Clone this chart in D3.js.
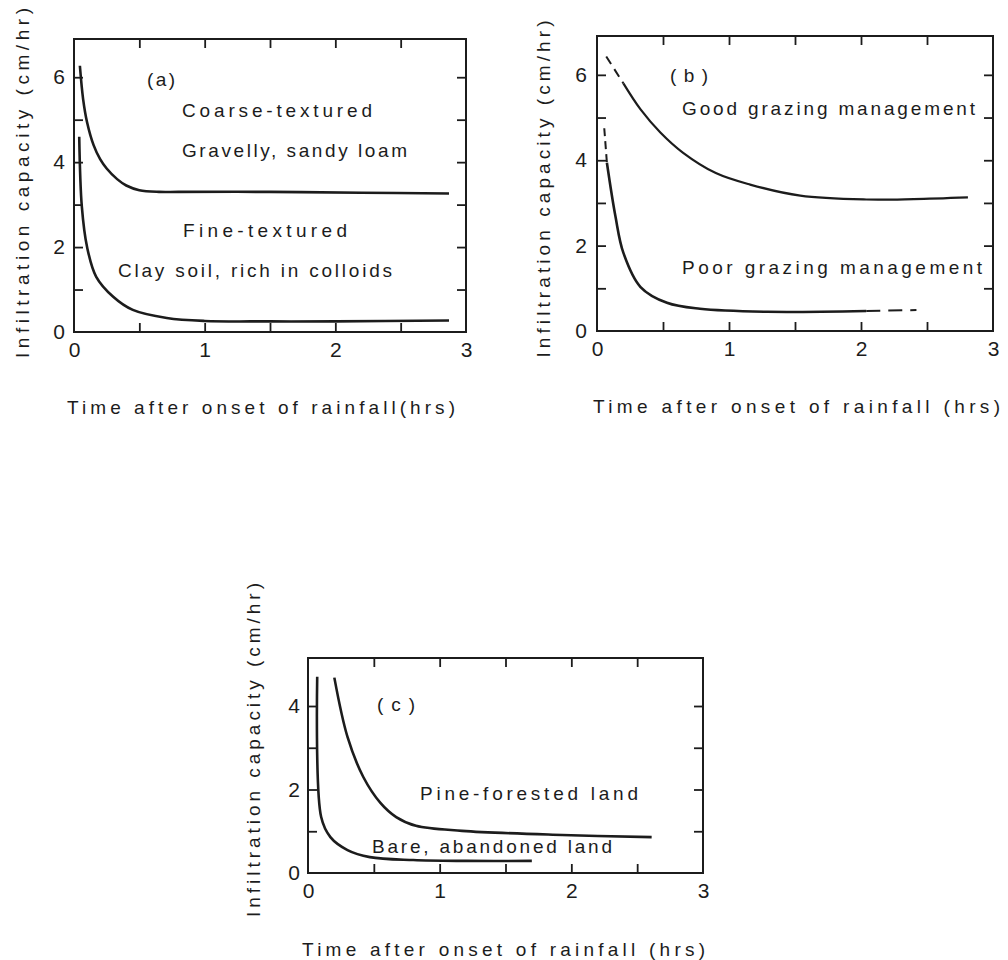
<!DOCTYPE html>
<html>
<head>
<meta charset="utf-8">
<script src="https://cdn.jsdelivr.net/npm/d3@7"></script>
<style>
  html, body { margin: 0; padding: 0; background: #fff; }
  svg { display: block; }
  text { font-family: "Liberation Sans", "DejaVu Sans", sans-serif; fill: #1c1c1c; }
</style>
</head>
<body>
<svg id="chart" width="1008" height="960"></svg>
<script>
// ---------------- DATA ----------------
const xTickMinor = [0.5, 1, 1.5, 2, 2.5];
const xTickLabels = [0, 1, 2, 3];

// Panel (a)
const aCoarseTime = [0.045, 0.07, 0.1, 0.15, 0.2, 0.25, 0.33, 0.4, 0.5, 0.65, 0.8, 1.5, 2.2, 2.87];
const aCoarseVal  = [6.27, 5.48, 4.94, 4.4, 4.07, 3.85, 3.6, 3.45, 3.34, 3.3, 3.3, 3.3, 3.28, 3.26];
const aFineTime   = [0.04, 0.06, 0.1, 0.17, 0.3, 0.45, 0.71, 1.0, 1.5, 2.0, 2.87];
const aFineVal    = [4.6, 2.95, 2.0, 1.3, 0.83, 0.52, 0.33, 0.26, 0.25, 0.25, 0.27];
const aYTicks = [1, 2, 3, 4, 5, 6];
const aYLabels = [0, 2, 4, 6];

// Panel (b)
const bGoodDashTime = [0.07, 0.2];
const bGoodDashVal  = [6.43, 5.8];
const bGoodTime = [0.2, 0.33, 0.48, 0.65, 0.9, 1.16, 1.54, 2.04, 2.4, 2.81];
const bGoodVal  = [5.8, 5.19, 4.65, 4.18, 3.7, 3.43, 3.17, 3.08, 3.09, 3.13];
const bPoorDashTime = [0.055, 0.075];
const bPoorDashVal  = [4.75, 3.94];
const bPoorTime = [0.075, 0.14, 0.2, 0.33, 0.53, 0.78, 1.29, 2.04];
const bPoorVal  = [3.94, 2.68, 1.83, 1.03, 0.66, 0.52, 0.45, 0.47];
const bPoorTailTime = [2.04, 2.42];
const bPoorTailVal  = [0.47, 0.49];
const bYTicks = [1, 2, 3, 4, 5, 6];
const bYLabels = [0, 2, 4, 6];

// Panel (c)
const cBareTime = [0.07, 0.1, 0.17, 0.3, 0.47, 0.8, 1.2, 1.7];
const cBareVal  = [4.7, 1.34, 0.86, 0.55, 0.38, 0.31, 0.29, 0.29];
const cPineTime = [0.2, 0.3, 0.42, 0.55, 0.67, 0.82, 1.17, 1.93, 2.61];
const cPineVal  = [4.68, 3.26, 2.3, 1.68, 1.34, 1.13, 1.01, 0.91, 0.86];
const cYTicks = [1, 2, 3, 4];
const cYLabels = [0, 2, 4];

const yTitle = "Infiltration capacity (cm/hr)";
const xTitleA = "Time after onset of rainfall(hrs)";
const xTitleB = "Time after onset of rainfall (hrs)";

// ---------------- DRAW ----------------
const svg = d3.select("#chart");
const ink = "#1c1c1c";

function zip(t, v) { return t.map((d, i) => ({t: d, v: v[i]})); }

function panel(cfg) {
  const x = d3.scaleLinear().domain([0, 3]).range([cfg.left, cfg.right]);
  const y = d3.scaleLinear().domain([0, cfg.ymax]).range([cfg.bottom, cfg.top]);
  const g = svg.append("g");

  g.append("rect")
    .attr("x", cfg.left).attr("y", cfg.top)
    .attr("width", cfg.right - cfg.left).attr("height", cfg.bottom - cfg.top)
    .attr("fill", "none").attr("stroke", ink).attr("stroke-width", 2);

  const tl = 9;
  const axB = g.append("g").attr("transform", `translate(0,${cfg.bottom})`)
    .call(d3.axisBottom(x).tickValues(xTickMinor).tickSize(-tl).tickFormat(""));
  const axT = g.append("g").attr("transform", `translate(0,${cfg.top})`)
    .call(d3.axisTop(x).tickValues(xTickMinor).tickSize(-tl).tickFormat(""));
  const axL = g.append("g").attr("transform", `translate(${cfg.left},0)`)
    .call(d3.axisLeft(y).tickValues(cfg.yTicks).tickSize(-tl).tickFormat(""));
  const axR = g.append("g").attr("transform", `translate(${cfg.right},0)`)
    .call(d3.axisRight(y).tickValues(cfg.yTicks).tickSize(-tl).tickFormat(""));
  [axB, axT, axL, axR].forEach(a => {
    a.select(".domain").remove();
    a.selectAll("line").attr("stroke", ink).attr("stroke-width", 1.8);
  });

  const lx = g.append("g").attr("transform", `translate(0,${cfg.bottom})`)
    .call(d3.axisBottom(x).tickValues(xTickLabels).tickSize(0).tickPadding(10).tickFormat(d3.format("d")));
  const ly = g.append("g").attr("transform", `translate(${cfg.left},0)`)
    .call(d3.axisLeft(y).tickValues(cfg.yLabels).tickSize(0).tickPadding(cfg.ypad).tickFormat(d3.format("d")));
  [lx, ly].forEach(a => {
    a.attr("font-size", null).attr("font-family", null);
    a.select(".domain").remove();
    a.selectAll("text").style("font-size", "21px").attr("fill", ink)
      .style("font-family", "'Liberation Sans', sans-serif");
  });

  g.append("text")
    .attr("transform", `translate(${cfg.yTitleX},${cfg.yTitleY}) rotate(-90)`)
    .attr("text-anchor", "middle").attr("dy", "0.35em")
    .style("font-size", "19px")
    .attr("textLength", cfg.yTitleLen).attr("lengthAdjust", "spacing")
    .text(yTitle);
  g.append("text")
    .attr("x", cfg.xTitleX).attr("y", cfg.xTitleY)
    .style("font-size", "19px")
    .attr("textLength", cfg.xTitleLen).attr("lengthAdjust", "spacing")
    .text(cfg.xTitle);

  const line = d3.line().x(d => x(d.t)).y(d => y(d.v)).curve(d3.curveCatmullRom.alpha(0.5));
  cfg.series.forEach(s => {
    g.append("path").datum(zip(s.t, s.v))
      .attr("d", line).attr("fill", "none").attr("stroke", ink)
      .attr("stroke-width", s.w || 2.6)
      .attr("stroke-linecap", "butt")
      .attr("stroke-dasharray", s.dash || null);
  });

  cfg.notes.forEach(n => {
    g.append("text").attr("x", n.x).attr("y", n.y)
      .style("font-size", (n.fs || 19) + "px")
      .attr("textLength", n.len).attr("lengthAdjust", "spacing")
      .text(n.text);
  });
}

panel({
  left: 74, right: 466, top: 39, bottom: 332, ymax: 6.9,
  yTicks: aYTicks, yLabels: aYLabels, ypad: 9,
  yTitleX: 22, yTitleY: 183, yTitleLen: 350,
  xTitle: xTitleA, xTitleX: 67, xTitleY: 414, xTitleLen: 388,
  series: [
    {t: aCoarseTime, v: aCoarseVal},
    {t: aFineTime, v: aFineVal}
  ],
  notes: [
    {text: "(a)", x: 147, y: 86, len: 28},
    {text: "Coarse-textured", x: 182, y: 117, len: 190},
    {text: "Gravelly, sandy loam", x: 182, y: 157, len: 225},
    {text: "Fine-textured", x: 183, y: 237, len: 164},
    {text: "Clay soil, rich in colloids", x: 118, y: 277, len: 274}
  ]
});

panel({
  left: 597, right: 993, top: 36, bottom: 331, ymax: 6.91,
  yTicks: bYTicks, yLabels: bYLabels, ypad: 10,
  yTitleX: 543, yTitleY: 189, yTitleLen: 337,
  xTitle: xTitleB, xTitleX: 593, xTitleY: 413, xTitleLen: 407,
  series: [
    {t: bGoodDashTime, v: bGoodDashVal, dash: "9,6", w: 2},
    {t: bGoodTime, v: bGoodVal, w: 2.2},
    {t: bPoorDashTime, v: bPoorDashVal, dash: "8,5", w: 2},
    {t: bPoorTime, v: bPoorVal},
    {t: bPoorTailTime, v: bPoorTailVal, dash: "14,8", w: 2}
  ],
  notes: [
    {text: "(b)", x: 670, y: 82, len: 38},
    {text: "Good grazing management", x: 682, y: 115, len: 293},
    {text: "Poor grazing management", x: 682, y: 274, len: 300}
  ]
});

panel({
  left: 308, right: 703, top: 658, bottom: 873, ymax: 5.15,
  yTicks: cYTicks, yLabels: cYLabels, ypad: 8,
  yTitleX: 253, yTitleY: 750, yTitleLen: 334,
  xTitle: xTitleB, xTitleX: 302, xTitleY: 956, xTitleLen: 403,
  series: [
    {t: cBareTime, v: cBareVal},
    {t: cPineTime, v: cPineVal}
  ],
  notes: [
    {text: "(c)", x: 377, y: 711, len: 38},
    {text: "Pine-forested land", x: 420, y: 800, len: 218},
    {text: "Bare, abandoned land", x: 372, y: 853, len: 240}
  ]
});
</script>
</body>
</html>
